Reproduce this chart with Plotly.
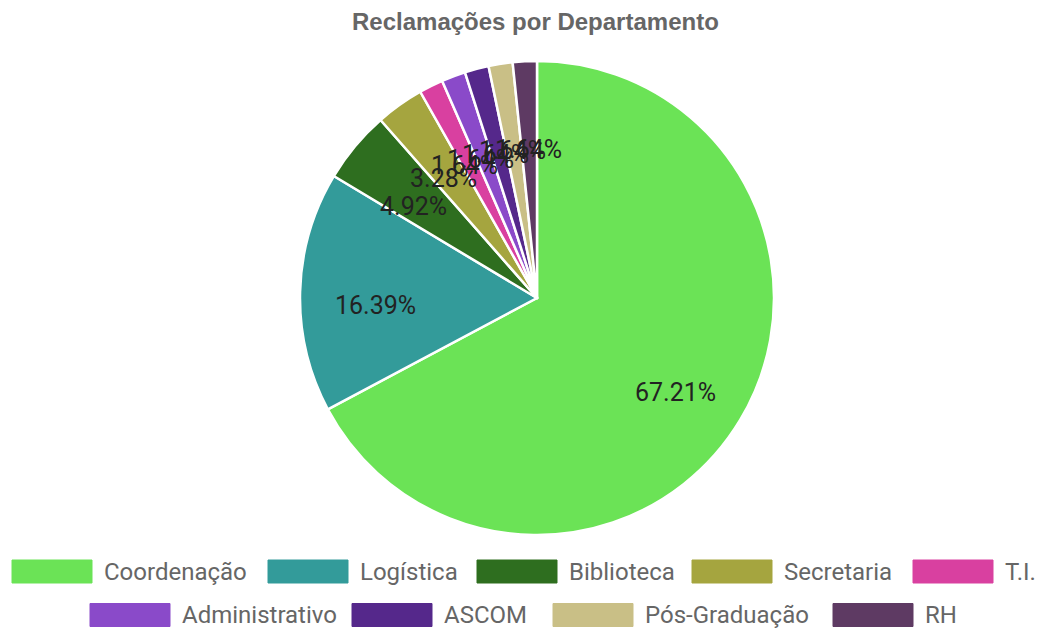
import math
import plotly.graph_objects as go

# ---- data ----
departments = ["Coordenação", "Logística", "Biblioteca", "Secretaria", "T.I.",
               "Administrativo", "ASCOM", "Pós-Graduação", "RH"]
complaints = [41, 10, 3, 2, 1, 1, 1, 1, 1]
colors = ["#6be356", "#339b9a", "#2e6e1f", "#a5a53f", "#d940a0",
          "#8a4ac9", "#55288b", "#c9bf86", "#5e3a63"]

title_text = "Reclamações por Departamento"

# ---- layout constants (window pixels) ----
W, H = 1044, 630
CX, CY, R = 537, 298, 237
LABEL_R = 0.68 * R
LABEL_DY = 12

legend_box_x = [12, 268, 477, 692, 913, 90, 352, 553, 833]
legend_row = [0, 0, 0, 0, 0, 1, 1, 1, 1]
legend_row_y = [571.5, 615]
BOX_W, BOX_H = 80, 23


def px(x):
    return x / W


def py(y):
    return 1 - y / H


fig = go.Figure(go.Pie(
    labels=departments,
    values=complaints,
    marker=dict(colors=colors, line=dict(color="white", width=2.5)),
    sort=False,
    direction="clockwise",
    rotation=0,
    textinfo="none",
    hovertemplate="%{label}: %{value} (%{percent})<extra></extra>",
    domain=dict(x=[px(CX - R), px(CX + R)], y=[py(CY + R), py(CY - R)]),
    showlegend=False,
))

annotations = []
shapes = []

# percentage labels at the arc middle of each slice
total = sum(complaints)
cum = 0
for name, v in zip(departments, complaints):
    mid = (cum + v / 2) / total * 2 * math.pi
    cum += v
    lx = CX + math.sin(mid) * LABEL_R
    ly = CY - math.cos(mid) * LABEL_R + LABEL_DY
    annotations.append(dict(
        x=px(lx), y=py(ly), xref="paper", yref="paper",
        text=f"{v / total * 100:.2f}%", showarrow=False,
        xanchor="center", yanchor="middle",
        font=dict(family="Roboto, Arial, sans-serif", size=25, color="#222222"),
    ))

# custom legend with wide colour boxes
for name, col, bx, row in zip(departments, colors, legend_box_x, legend_row):
    yc = legend_row_y[row]
    shapes.append(dict(
        type="rect", xref="paper", yref="paper",
        x0=px(bx), x1=px(bx + BOX_W), y0=py(yc + BOX_H / 2), y1=py(yc - BOX_H / 2),
        fillcolor=col, line=dict(color=col, width=1),
    ))
    annotations.append(dict(
        x=px(bx + BOX_W + 10), y=py(yc), xref="paper", yref="paper",
        text=name, showarrow=False, xanchor="left", yanchor="middle",
        font=dict(family="Roboto, Arial, sans-serif", size=24, color="#666666"),
    ))

# title
annotations.append(dict(
    x=px(535), y=py(22), xref="paper", yref="paper",
    text=f"<b>{title_text}</b>", showarrow=False,
    xanchor="center", yanchor="middle",
    font=dict(family="Arial, Liberation Sans, sans-serif", size=24, color="#666666"),
))

fig.update_layout(
    width=W, height=H,
    margin=dict(l=0, r=0, t=0, b=0),
    paper_bgcolor="white",
    plot_bgcolor="white",
    annotations=annotations,
    shapes=shapes,
)

fig.write_html(
    "out.html",
    config={"displayModeBar": False},
    post_script="document.body.style.margin='0';document.body.style.overflow='hidden';",
)
